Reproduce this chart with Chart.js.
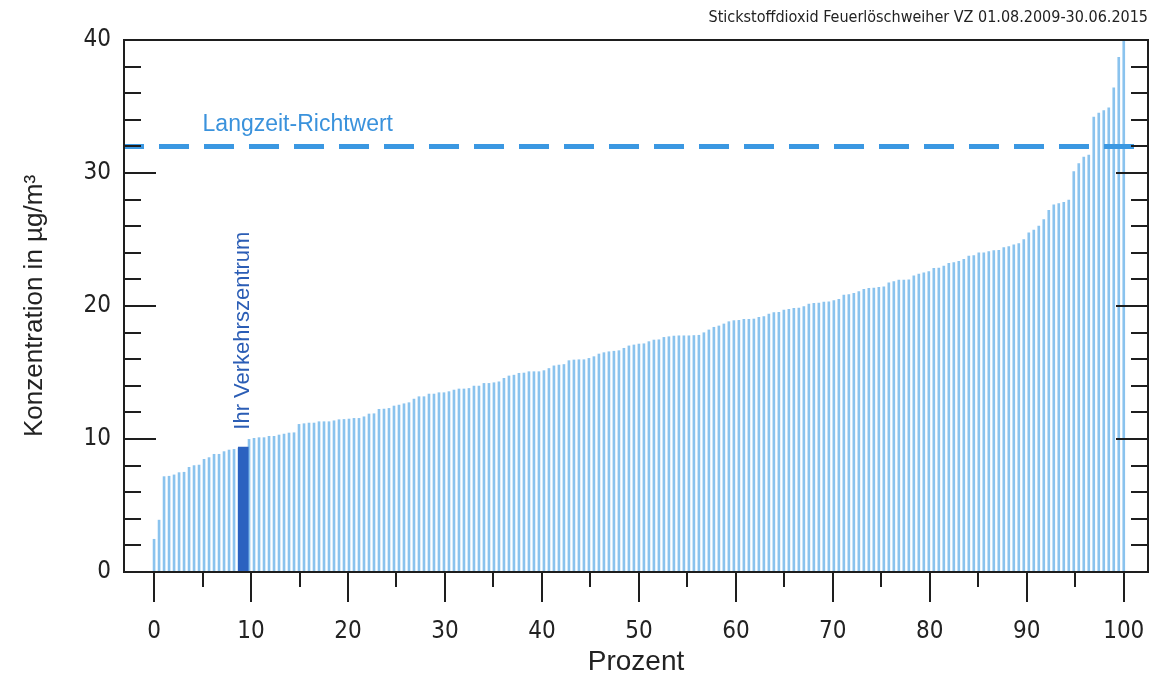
<!DOCTYPE html>
<html>
<head>
<meta charset="utf-8">
<script src="https://cdn.jsdelivr.net/npm/chart.js@4.4.1/dist/chart.umd.min.js"></script>
<style>
  html, body { margin: 0; padding: 0; background: #fff; }
</style>
</head>
<body>
<canvas id="chart" width="1152" height="676"></canvas>
<script>
// NO2 concentrations, sorted ascending (µg/m³), one bar per station
const concentration = [
  2.46, 3.9, 7.17, 7.2, 7.3, 7.47, 7.5, 7.87, 8.0, 8.04,
  8.47, 8.6, 8.85, 8.85, 9.05, 9.17, 9.22, 9.3, 9.35, 9.97,
  10.05, 10.1, 10.1, 10.2, 10.2, 10.3, 10.37, 10.45, 10.47, 11.1,
  11.15, 11.2, 11.2, 11.3, 11.3, 11.3, 11.37, 11.45, 11.47, 11.5,
  11.55, 11.55, 11.67, 11.88, 11.9, 12.23, 12.25, 12.3, 12.48, 12.55,
  12.65, 12.73, 13.0, 13.18, 13.18, 13.38, 13.38, 13.48, 13.48, 13.56,
  13.68, 13.76, 13.76, 13.8, 13.98, 13.98, 14.18, 14.18, 14.23, 14.3,
  14.56, 14.74, 14.8, 14.94, 14.96, 15.06, 15.06, 15.06, 15.14, 15.3,
  15.5, 15.56, 15.6, 15.89, 15.94, 15.96, 15.96, 16.06, 16.19, 16.39,
  16.49, 16.56, 16.6, 16.64, 16.82, 17.0, 17.07, 17.14, 17.16, 17.32,
  17.44, 17.46, 17.64, 17.69, 17.74, 17.76, 17.76, 17.76, 17.78, 17.8,
  17.99, 18.2, 18.4, 18.5, 18.65, 18.82, 18.9, 18.92, 19.0, 19.0,
  19.02, 19.15, 19.2, 19.4, 19.5, 19.52, 19.7, 19.75, 19.82, 19.84,
  19.95, 20.15, 20.2, 20.22, 20.3, 20.32, 20.4, 20.5, 20.83, 20.85,
  20.95, 21.08, 21.26, 21.33, 21.35, 21.4, 21.45, 21.75, 21.83, 21.95,
  21.95, 21.97, 22.26, 22.4, 22.5, 22.58, 22.83, 22.85, 23.0, 23.2,
  23.26, 23.35, 23.5, 23.76, 23.8, 24.0, 24.0, 24.1, 24.16, 24.18,
  24.4, 24.46, 24.6, 24.7, 25.0, 25.5, 25.7, 26.0, 26.5, 27.2,
  27.6, 27.7, 27.8, 27.97, 30.1, 30.7, 31.2, 31.35, 34.2, 34.5,
  34.7, 34.9, 36.4, 38.7, 39.9
];
// "Ihr Verkehrszentrum"
const highlightPercent = [9.2];
const highlightValue = [9.4];
// Langzeit-Richtwert
const richtwert = 32;

const xTickLabels = [0, 10, 20, 30, 40, 50, 60, 70, 80, 90, 100];
const yTickLabels = [0, 10, 20, 30, 40];
const xMin = -3.1, xMax = 102.5;

// percent rank of each sorted value
const percent = concentration.map((v, i) => i * 100 / (concentration.length - 1));

const narrow = '"Liberation Sans Narrow", "DejaVu Sans Condensed", "Liberation Sans", sans-serif';
const regular = '"Liberation Sans", Arial, sans-serif';

const frame = {
  id: 'frame',
  afterDraw(chart) {
    const c = chart.ctx;
    const a = chart.chartArea;
    const x = chart.scales.x;
    const y = chart.scales.y;
    c.save();
    c.strokeStyle = '#1e1e1e';
    c.lineWidth = 2;
    c.strokeRect(a.left, a.top, a.right - a.left, a.bottom - a.top);
    c.beginPath();
    for (let v = 2; v < 40; v += 2) {
      const py = Math.round(y.getPixelForValue(v));
      const len = v % 10 === 0 ? 32 : 17;
      c.moveTo(a.left, py); c.lineTo(a.left + len, py);
      c.moveTo(a.right, py); c.lineTo(a.right - len, py);
    }
    for (let v = 0; v <= 100; v += 5) {
      const px = Math.round(x.getPixelForValue(v));
      const len = v % 10 === 0 ? 30 : 15;
      c.moveTo(px, a.bottom); c.lineTo(px, a.bottom + len);
    }
    c.stroke();

    // title
    c.fillStyle = '#222';
    c.font = '16px ' + narrow;
    c.textAlign = 'right';
    c.textBaseline = 'middle';
    c.fillText('Stickstoffdioxid Feuerlöschweiher VZ 01.08.2009-30.06.2015', a.right, 18);

    // Richtwert label
    c.fillStyle = '#3a92dc';
    c.font = '23px ' + regular;
    c.textAlign = 'left';
    c.fillText('Langzeit-Richtwert', x.getPixelForValue(5), y.getPixelForValue(33.6));

    // highlight label
    c.fillStyle = '#2b5db5';
    c.font = '22px ' + regular;
    c.translate(x.getPixelForValue(highlightPercent[0]), y.getPixelForValue(10.7));
    c.rotate(-Math.PI / 2);
    c.fillText('Ihr Verkehrszentrum', 0, 0);
    c.restore();
  }
};

new Chart(document.getElementById('chart'), {
  type: 'bar',
  data: {
    datasets: [
      {
        type: 'line',
        data: [{ x: xMin, y: richtwert }, { x: xMax, y: richtwert }],
        borderColor: '#3b98e2',
        borderWidth: 5,
        borderDash: [30, 15],
        borderDashOffset: 10,
        pointRadius: 0,
        order: 0
      },
      {
        data: highlightPercent.map((p, i) => ({ x: p, y: highlightValue[i] })),
        backgroundColor: '#2c62c0',
        barThickness: 10,
        grouped: false,
        order: 1
      },
      {
        data: concentration.map((v, i) => ({ x: percent[i], y: v })),
        backgroundColor: '#8ac3ee',
        barThickness: 2,
        grouped: false,
        order: 2
      }
    ]
  },
  options: {
    responsive: false,
    animation: false,
    devicePixelRatio: 1,
    layout: { padding: { left: 0, right: 4, top: 40, bottom: 0 } },
    plugins: { legend: { display: false }, tooltip: { enabled: false } },
    scales: {
      x: {
        type: 'linear',
        min: xMin,
        max: xMax,
        offset: false,
        afterBuildTicks: s => { s.ticks = xTickLabels.map(v => ({ value: v })); },
        afterFit: s => { s.height = 104; },
        grid: { display: false, drawTicks: true, tickLength: 45 },
        border: { display: false },
        ticks: {
          padding: 0, autoSkip: false, maxRotation: 0,
          color: '#222', font: { family: narrow, size: 24 }
        },
        title: {
          display: true, text: 'Prozent', color: '#222',
          font: { family: regular, size: 28, lineHeight: 1 },
          padding: { top: 0, bottom: 0 }
        }
      },
      y: {
        min: 0,
        max: 40,
        afterBuildTicks: s => { s.ticks = yTickLabels.map(v => ({ value: v })); },
        afterFit: s => { s.width = 124; },
        grid: { display: false, drawTicks: true, tickLength: 13 },
        border: { display: false },
        ticks: {
          padding: 0,
          color: '#222', font: { family: narrow, size: 24 }
        },
        title: {
          display: true, text: 'Konzentration in µg/m³', color: '#222',
          font: { family: regular, size: 26 },
          padding: { top: 19, bottom: 0 }
        }
      }
    }
  },
  plugins: [frame]
});
</script>
</body>
</html>
